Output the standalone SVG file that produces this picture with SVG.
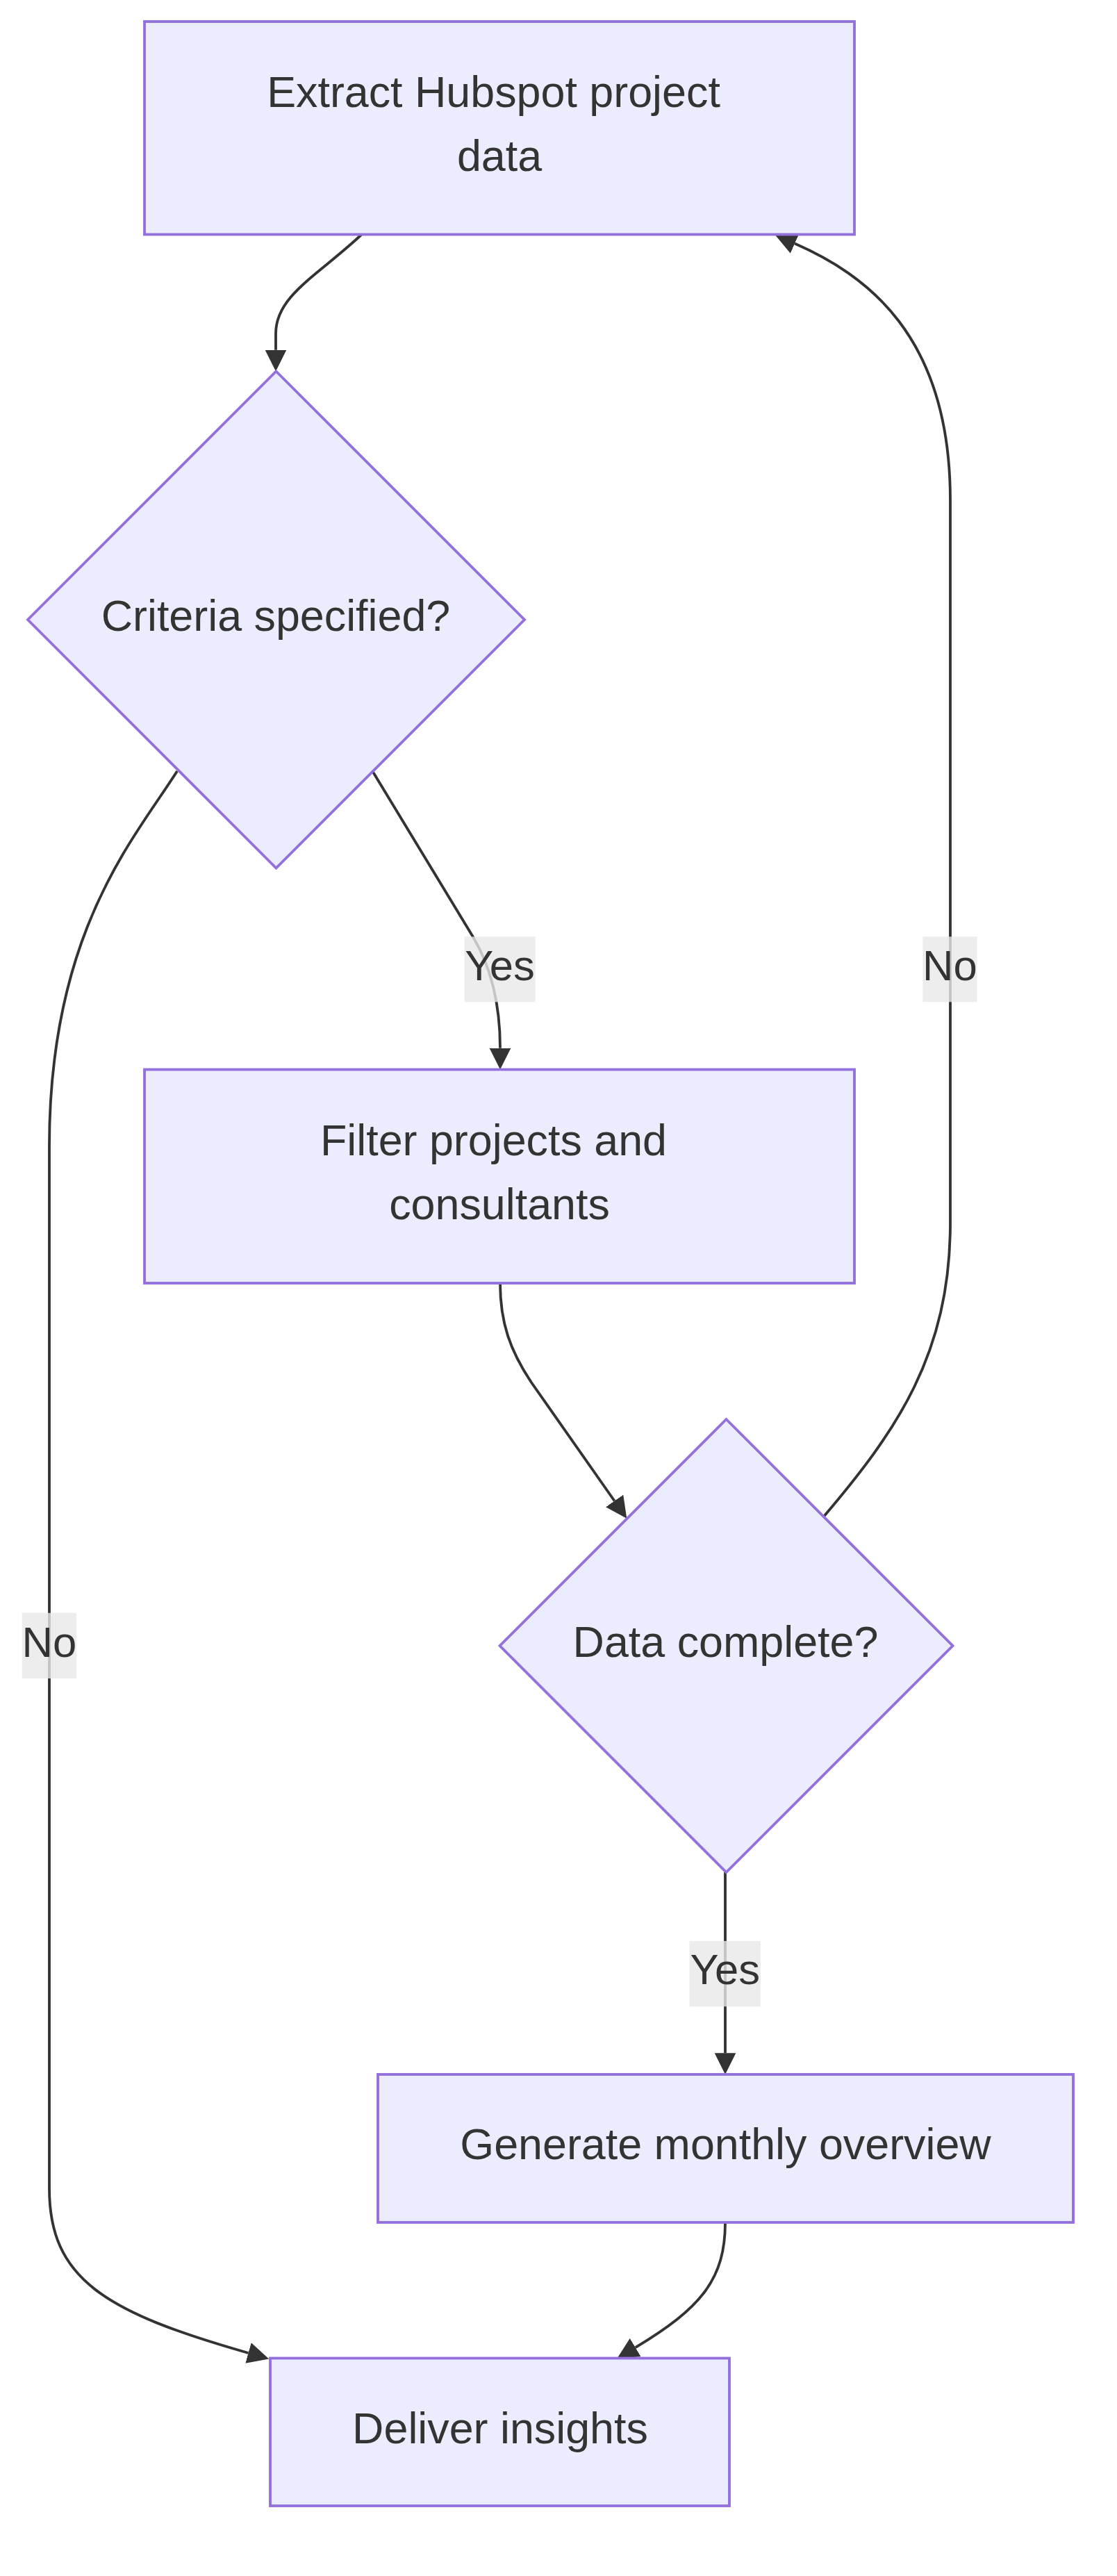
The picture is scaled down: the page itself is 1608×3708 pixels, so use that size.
<svg xmlns="http://www.w3.org/2000/svg" width="1608" height="3708" viewBox="0 0 1608 3708">
<style>
.node rect,.node polygon{fill:#ECECFF;stroke:#9370DB;stroke-width:3.85}
.node text{font-family:"Liberation Sans",Arial,sans-serif;font-size:62.8px;fill:#333;text-anchor:middle}
.edge{fill:none;stroke:#333;stroke-width:3.85}
.elabel rect{fill:#e8e8e8;fill-opacity:0.8}
.elabel text{font-family:"Liberation Sans",Arial,sans-serif;font-size:61.6px;fill:#333;text-anchor:middle}
</style>
<defs>
<marker id="arrow" viewBox="0 0 10 10" refX="0" refY="5" markerUnits="userSpaceOnUse" markerWidth="30.8" markerHeight="30.8" orient="auto">
<path d="M0,0 L10,5 L0,10 z" fill="#333"/>
</marker>
</defs>
<rect width="1608" height="3708" fill="#fff"/>
<g id="connectors">
<path class="edge" marker-end="url(#arrow)" d="M520,338 C460,395 397,425 397,480 L397,503.7"/>
<path class="edge" marker-end="url(#arrow)" d="M537.3,1111.7 L680,1347 C700,1380 720,1430 720,1508.7"/>
<path class="edge" marker-end="url(#arrow)" d="M255,1110 C195,1205 71,1340 71,1650 L71,3150 C71,3280 150,3328 357.5,3387"/>
<path class="edge" marker-end="url(#arrow)" d="M720,1847 C720,1905 735,1945 765,1990 L884.6,2160.5"/>
<path class="edge" marker-end="url(#arrow)" d="M1186.7,2182 C1290,2060 1368,1950 1368,1760 L1368,720 C1368,480 1244,394.5 1144.1,350.6"/>
<path class="edge" marker-end="url(#arrow)" d="M1044,2695 L1044,2955.2"/>
<path class="edge" marker-end="url(#arrow)" d="M1044,3199 C1044,3280 1010,3322 914.7,3379.1"/>
</g>
<g id="edge-labels">
<g class="elabel"><rect x="668.5" y="1348.3" width="102" height="94"/><text x="719.5" y="1411">Yes</text></g>
<g class="elabel"><rect x="1328.4" y="1348.3" width="78" height="94"/><text x="1367.4" y="1411">No</text></g>
<g class="elabel"><rect x="31.7" y="2321.7" width="78.3" height="94.3"/><text x="70.8" y="2385">No</text></g>
<g class="elabel"><rect x="992.5" y="2794" width="102.4" height="94.3"/><text x="1043.7" y="2856">Yes</text></g>
</g>
<g id="node-extract" class="node">
<rect x="208" y="31" width="1022" height="306.5"/>
<text x="710.5" y="153.5">Extract Hubspot project</text>
<text x="719" y="246">data</text>
</g>
<g id="node-criteria" class="node">
<polygon points="397.5,534.5 755,892 397.5,1249.5 40,892"/>
<text x="397" y="908">Criteria specified?</text>
</g>
<g id="node-filter" class="node">
<rect x="208" y="1539.5" width="1022" height="307.5"/>
<text x="710.5" y="1662.5">Filter projects and</text>
<text x="719" y="1755">consultants</text>
</g>
<g id="node-data" class="node">
<polygon points="1045.5,2043 1371.5,2369 1045.5,2695 719.5,2369"/>
<text x="1044.5" y="2384.7">Data complete?</text>
</g>
<g id="node-generate" class="node">
<rect x="544" y="2986" width="1001" height="213"/>
<text x="1044.5" y="3107.6">Generate monthly overview</text>
</g>
<g id="node-deliver" class="node">
<rect x="389" y="3394.5" width="661" height="212.5"/>
<text x="720" y="3516.5">Deliver insights</text>
</g>
</svg>
